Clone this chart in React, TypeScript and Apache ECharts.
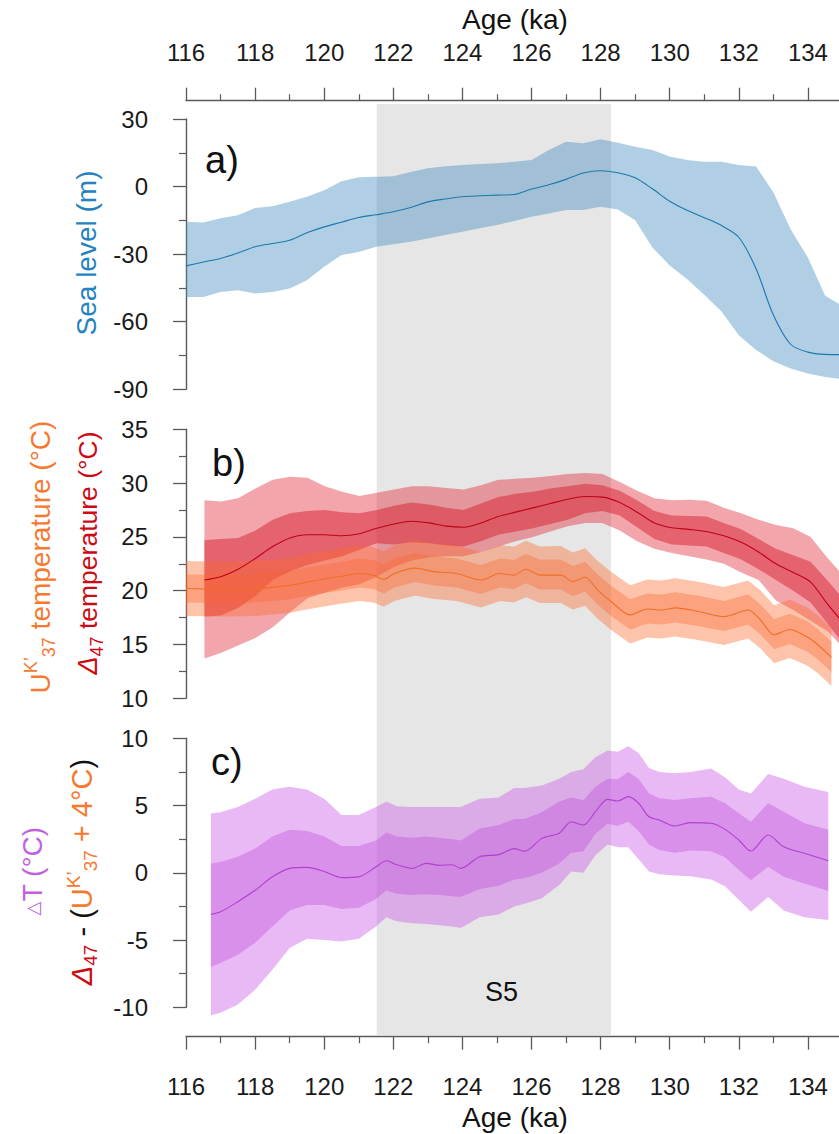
import React, { useEffect, useRef } from 'react';
import * as echarts from 'echarts';

const FONT = '"Liberation Sans", Arial, Helvetica, sans-serif';

// ---------- Panel a: sea level (m) ----------
const SL_AGE = [116, 116.5, 117, 117.5, 118, 118.5, 119, 119.5, 120, 120.5, 121, 121.5, 122, 122.5, 123, 123.5, 124, 124.5, 125, 125.5, 126, 126.5, 127, 127.5, 128, 128.5, 129, 129.5, 130, 130.5, 131, 131.5, 132, 132.5, 133, 133.5, 134, 134.5, 135];
const SL_MEAN = [-35.2, -33.5, -31.9, -29.5, -26.7, -25.3, -23.8, -20.5, -17.9, -15.8, -13.7, -12.5, -11.2, -9.3, -6.8, -5.5, -4.5, -4.1, -3.8, -3.5, -1.1, 0.8, 3.2, 6.0, 7.0, 6.1, 3.9, -1.0, -6.5, -10.5, -13.8, -17.3, -22.5, -36.5, -57, -70, -73.5, -74.5, -74.6];
const SL_UP = [-15.6, -16, -14.1, -12.7, -9.5, -8.7, -6.7, -4.5, -1.6, 2.4, 4.1, 4.4, 4.6, 6.5, 8.1, 9.0, 9.6, 10.0, 10.3, 11.0, 11.8, 16.2, 19.9, 19.2, 21, 19.5, 17.7, 16.2, 13.3, 11.8, 11, 11, 9.6, 8.9, -2.5, -19, -31.5, -48.5, -53];
const SL_LOW = [-49, -49, -46.8, -46, -47.5, -46.8, -45.2, -41.6, -35.6, -30.4, -29, -26.7, -25.6, -24.5, -23, -21.5, -20, -18.5, -17.1, -15.3, -13.4, -12, -10.4, -10.4, -9, -10.2, -15, -27, -35, -41, -48, -55.5, -66, -72.5, -77.5, -80.8, -83, -84.5, -85.5];

// ---------- Panel b: clumped isotope (Δ47) temperature (°C) ----------
const R_AGE = [116.53, 117, 117.5, 118, 118.5, 119, 119.5, 120, 120.5, 121, 121.5, 122, 122.5, 123, 123.5, 124, 124.5, 125, 125.5, 126, 126.5, 127, 127.5, 128, 128.5, 129, 129.5, 130, 130.5, 131, 131.5, 132, 132.5, 133, 133.5, 134, 134.5, 135];
const R_MEAN = [21.0, 21.3, 22.0, 23.0, 24.1, 24.9, 25.2, 25.2, 25.1, 25.3, 25.8, 26.2, 26.45, 26.3, 26.0, 25.9, 26.3, 26.9, 27.3, 27.7, 28.1, 28.5, 28.75, 28.7, 28.2, 27.3, 26.3, 25.85, 25.7, 25.5, 25.1, 24.5, 23.6, 22.5, 21.7, 20.8, 18.7, 16.8];
const R_IN_UP = [24.7, 24.8, 24.9, 25.6, 26.6, 27.2, 27.4, 27.5, 27.3, 27.2, 27.5, 27.9, 28.2, 28.0, 27.7, 27.5, 28.1, 28.7, 29.0, 29.2, 29.5, 29.7, 29.95, 29.8, 29.3, 28.4, 27.4, 27.0, 26.95, 26.9, 26.3, 25.7, 24.8, 23.9, 23.3, 22.7, 20.9, 19.0];
const R_IN_LOW = [17.6, 17.7, 18.4, 19.5, 21.0, 21.8, 22.4, 22.8, 23.2, 23.8, 24.4, 24.3, 24.5, 24.4, 24.2, 24.1, 24.6, 25.2, 25.5, 25.8, 26.2, 26.6, 27.2, 27.4, 27.0, 25.9, 24.8, 24.3, 24.2, 24.1, 23.5, 22.9, 22.0, 21.0, 20.0, 18.9, 16.9, 14.8];
const R_OUT_UP = [28.4, 28.3, 28.6, 29.5, 30.3, 30.6, 30.5, 29.7, 29.2, 28.8, 29.1, 29.4, 29.7, 29.7, 29.55, 29.4, 29.8, 30.3, 30.4, 30.5, 30.65, 30.85, 30.95, 30.85, 30.1, 29.3, 28.6, 28.4, 28.45, 28.35, 27.7, 27.2, 26.6, 26.1, 25.8, 25.0, 23.0, 21.2];
const R_OUT_LOW = [13.7, 14.2, 14.9, 15.6, 16.6, 18.0, 19.3, 19.8, 20.3, 20.6, 21.3, 22.2, 22.8, 23.1, 23.2, 23.2, 23.6, 24.1, 24.6, 25.0, 25.5, 26.0, 26.3, 26.3, 25.6, 24.6, 23.9, 23.5, 23.2, 22.9, 22.5, 21.7, 21.0, 19.1, 18.2, 17.2, 16.2, 14.5];

// ---------- Panel b: alkenone (UK'37) temperature (°C) ----------
const O_AGE = [116, 117, 118, 118.9, 119.8, 120.5, 121.0, 121.4, 121.7, 122.0, 122.6, 123.1, 123.8, 124.5, 125.05, 125.45, 125.8, 126.2, 126.8, 127.15, 127.5, 127.85, 128.25, 128.8, 129.3, 129.7, 130.1, 130.8, 131.5, 132.2, 132.55, 132.95, 133.4, 133.9, 134.2, 134.6];
const O_MEAN = [20.2, 20.15, 20.2, 20.45, 21.0, 21.35, 21.6, 21.45, 21.05, 21.6, 22.1, 21.8, 21.6, 21.0, 21.6, 21.45, 22.0, 21.45, 21.45, 20.85, 21.25, 20.1, 19.0, 17.75, 18.3, 18.2, 18.4, 18.05, 17.6, 18.2, 17.3, 15.9, 16.4, 15.7, 15.0, 13.8];
const O_IN_UP = [21.5, 21.45, 21.5, 21.8, 22.35, 22.7, 23.0, 22.85, 22.45, 23.0, 23.5, 23.2, 23.0, 22.4, 23.0, 22.85, 23.4, 22.9, 22.9, 22.3, 22.7, 21.55, 20.45, 19.2, 19.75, 19.65, 19.85, 19.5, 19.05, 19.65, 18.75, 17.35, 17.85, 17.15, 16.45, 15.25];
const O_IN_LOW = [18.9, 18.85, 18.9, 19.15, 19.7, 20.05, 20.3, 20.15, 19.75, 20.3, 20.8, 20.5, 20.3, 19.7, 20.3, 20.15, 20.7, 20.1, 20.1, 19.5, 19.9, 18.75, 17.65, 16.4, 16.95, 16.85, 17.05, 16.7, 16.25, 16.85, 15.95, 14.55, 15.05, 14.35, 13.65, 12.45];
const O_OUT_UP = [22.75, 22.7, 22.75, 23.0, 23.6, 23.95, 24.2, 24.05, 23.65, 24.2, 24.7, 24.4, 24.2, 23.6, 24.25, 24.1, 24.65, 24.1, 24.15, 23.55, 23.95, 22.8, 21.75, 20.5, 21.05, 20.95, 21.15, 20.8, 20.35, 20.95, 20.05, 18.65, 19.15, 18.45, 17.75, 16.55];
const O_OUT_LOW = [17.65, 17.6, 17.65, 17.9, 18.45, 18.8, 19.05, 18.9, 18.5, 19.05, 19.55, 19.25, 19.05, 18.45, 19.05, 18.9, 19.4, 18.85, 18.85, 18.25, 18.6, 17.45, 16.35, 15.1, 15.65, 15.55, 15.75, 15.4, 14.95, 15.55, 14.65, 13.25, 13.75, 13.05, 12.35, 11.15];

// ---------- Panel c: ΔT (°C) ----------
const P_AGE = [116.72, 117, 117.5, 118, 118.5, 119, 119.5, 120, 120.5, 121, 121.5, 121.8, 122.1, 122.55, 122.95, 123.35, 123.7, 123.95, 124.5, 125.05, 125.5, 125.8, 126.3, 126.8, 127.15, 127.5, 127.85, 128.2, 128.5, 128.8, 129.1, 129.4, 129.7, 130.15, 130.6, 131.2, 131.6, 132.0, 132.35, 132.85, 133.3, 133.9, 134.59];
const P_MEAN = [-3.1, -2.9, -2.15, -1.3, -0.3, 0.33, 0.4, 0.1, -0.36, -0.3, 0.45, 0.9, 0.6, 0.33, 0.7, 0.55, 0.6, 0.33, 1.2, 1.35, 1.8, 1.6, 2.56, 2.94, 3.8, 3.55, 4.54, 5.46, 5.34, 5.66, 5.17, 4.17, 3.93, 3.48, 3.73, 3.68, 3.23, 2.44, 1.62, 2.81, 1.94, 1.45, 0.9];
const P_IN_UP = [0.7, 0.8, 1.2, 1.8, 2.7, 3.2, 3.1, 2.7, 2.0, 2.0, 2.4, 3.0, 2.7, 2.6, 2.7, 2.6, 2.5, 2.4, 3.3, 3.55, 4.0, 4.0, 4.5, 5.3, 5.6, 5.4, 6.4, 7.0, 6.95, 7.5, 7.0, 5.9, 5.54, 5.41, 5.54, 5.66, 5.17, 4.42, 3.8, 5.17, 4.54, 3.68, 3.2];
const P_IN_LOW = [-7.0, -6.7, -6.1, -5.2, -4.0, -2.8, -2.4, -2.4, -2.7, -2.6, -1.95, -1.3, -1.55, -1.65, -1.6, -1.65, -1.75, -1.8, -1.2, -0.96, -0.5, -0.4, 0.0, 0.7, 1.5, 1.6, 2.9, 3.65, 3.5, 3.8, 3.1, 2.1, 1.7, 1.5, 1.65, 1.6, 1.15, 0.2, -0.55, 0.45, -0.3, -0.8, -1.35];
const P_OUT_UP = [4.4, 4.5, 4.9, 5.5, 6.2, 6.4, 6.2, 5.5, 4.3, 4.3, 4.9, 5.3, 4.95, 4.9, 4.9, 4.9, 4.9, 4.9, 5.5, 5.6, 6.3, 6.3, 6.5, 7.0, 7.5, 7.7, 8.6, 9.1, 9.0, 9.4, 8.9, 7.8, 7.5, 7.4, 7.5, 7.75, 7.1, 6.2, 5.9, 7.35, 7.0, 6.4, 6.0];
const P_OUT_LOW = [-10.6, -10.4, -9.8, -8.7, -7.2, -5.6, -4.9, -5.0, -5.1, -4.9, -4.0, -3.3, -3.6, -3.75, -3.8, -3.9, -4.0, -4.1, -3.3, -3.1, -2.5, -2.3, -1.9, -0.9, 0.1, 0.0, 1.3, 2.1, 1.9, 1.9, 1.0, 0.1, -0.1, -0.2, -0.25, -0.5, -1.0, -2.0, -2.9, -1.8, -2.8, -3.3, -3.5];

// ---------- Axes / annotations ----------
const X_MIN = 116;
const X_MAX = 136;
const X_STEP = 2;
const Y_A = { min: -90, max: 30, step: 30 };
const Y_B = { min: 10, max: 35, step: 5 };
const Y_C = { min: -10, max: 10, step: 5 };
const S5_RANGE = [121.52, 128.3];
const S5_LABEL_AGE = 125.13;

const AXIS_COLOR = '#5a5a5a';
const LABEL_COLOR = '#1a1a1a';

function band(idx: number, ages: number[], up: number[], low: number[], color: string) {
  return {
    type: 'custom',
    xAxisIndex: idx,
    yAxisIndex: idx,
    silent: true,
    data: [[ages[0], up[0]]],
    renderItem: (_p: any, api: any) => {
      const pts: number[][] = [];
      for (let i = 0; i < ages.length; i++) pts.push(api.coord([ages[i], up[i]]));
      for (let i = ages.length - 1; i >= 0; i--) pts.push(api.coord([ages[i], low[i]]));
      return { type: 'polygon', shape: { points: pts }, style: { fill: color } };
    },
  };
}

function line(idx: number, ages: number[], vals: number[], color: string) {
  return {
    type: 'line',
    xAxisIndex: idx,
    yAxisIndex: idx,
    silent: true,
    data: ages.map((a, i) => [a, vals[i]]),
    showSymbol: false,
    smooth: 0.3,
    lineStyle: { color, width: 1.1 },
  };
}

function xAxis(idx: number, pos: 'top' | 'bottom', show: boolean, offset: number, margin: number) {
  return {
    type: 'value',
    gridIndex: idx,
    position: pos,
    show,
    offset,
    min: X_MIN,
    max: X_MAX,
    interval: X_STEP,
    axisLine: { show: true, onZero: false, lineStyle: { color: AXIS_COLOR, width: 1.4 } },
    axisTick: { show: true, inside: false, length: 13, lineStyle: { color: AXIS_COLOR, width: 1.3 } },
    minorTick: { show: true, splitNumber: 2, length: 6.5, lineStyle: { color: AXIS_COLOR, width: 1.2 } },
    splitLine: { show: false },
    minorSplitLine: { show: false },
    axisLabel: {
      show: true,
      margin,
      fontSize: 24,
      fontFamily: FONT,
      color: LABEL_COLOR,
      formatter: (v: number) => (v <= 134 && Math.abs(v % 2) < 1e-6 ? String(v) : ''),
    },
  };
}

function yAxis(idx: number, r: { min: number; max: number; step: number }) {
  return {
    type: 'value',
    gridIndex: idx,
    min: r.min,
    max: r.max,
    interval: r.step,
    axisLine: { show: true, onZero: false, lineStyle: { color: AXIS_COLOR, width: 1.4 } },
    axisTick: { show: true, inside: false, length: 13, lineStyle: { color: AXIS_COLOR, width: 1.3 } },
    minorTick: { show: true, splitNumber: 2, length: 7, lineStyle: { color: AXIS_COLOR, width: 1.2 } },
    splitLine: { show: false },
    axisLabel: { margin: 38, fontSize: 24, fontFamily: FONT, color: LABEL_COLOR },
  };
}

// rich-text token styles for the rotated axis titles
function tok(color: string, size: number, extra: any = {}) {
  return { fill: color, color, fontSize: size, fontFamily: FONT, lineHeight: 36, ...extra };
}
function supTok(color: string, size: number) {
  return { fill: color, color, fontSize: size, fontFamily: FONT, lineHeight: 16, verticalAlign: 'top' };
}
function subTok(color: string, size: number) {
  return { fill: color, color, fontSize: size, fontFamily: FONT, lineHeight: 16, verticalAlign: 'bottom' };
}

function verticalRich(text: string, rich: any, cx: number, cy: number) {
  return {
    type: 'text',
    x: cx,
    y: cy,
    rotation: Math.PI / 2,
    silent: true,
    style: {
      text,
      rich,
      align: 'center',
      textAlign: 'center',
      verticalAlign: 'middle',
      textVerticalAlign: 'middle',
    },
  };
}

function plainText(text: string, x: number, y: number, size: number, align = 'left', color = '#111') {
  return {
    type: 'text',
    x,
    y,
    silent: true,
    style: {
      text,
      fill: color,
      font: `${size}px ${FONT}`,
      align,
      textAlign: align,
      verticalAlign: 'middle',
      textVerticalAlign: 'middle',
    },
  };
}

const BLUE_T = '#2382bf';
const ORANGE_T = '#f7782f';
const RED_T = '#cc0a14';
const PURPLE_T = '#c062e0';
const BLACK_T = '#111111';

export default function App() {
  const ref = useRef<HTMLDivElement>(null);
  useEffect(() => {
    const chart = echarts.init(ref.current!, null, { renderer: 'svg' });
    const grids = [
      { left: 186, width: 694, top: 119, height: 270.3 },
      { left: 186, width: 694, top: 429.3, height: 269 },
      { left: 186, width: 694, top: 738.3, height: 269 },
    ];
    chart.setOption({
      animation: false,
      backgroundColor: '#ffffff',
      grid: grids,
      xAxis: [xAxis(0, 'top', true, 18.3, 36), xAxis(1, 'bottom', false, 0, 8), xAxis(2, 'bottom', true, 29.4, 38)],
      yAxis: [yAxis(0, Y_A), yAxis(1, Y_B), yAxis(2, Y_C)],
      series: [
        band(0, SL_AGE, SL_UP, SL_LOW, 'rgba(70,140,190,0.42)'),
        line(0, SL_AGE, SL_MEAN, '#1c78b0'),
        band(1, R_AGE, R_OUT_UP, R_OUT_LOW, 'rgba(222,30,45,0.4)'),
        band(1, R_AGE, R_IN_UP, R_IN_LOW, 'rgba(212,20,35,0.45)'),
        line(1, R_AGE, R_MEAN, '#c00018'),
        band(1, O_AGE, O_OUT_UP, O_OUT_LOW, 'rgba(252,105,45,0.4)'),
        band(1, O_AGE, O_IN_UP, O_IN_LOW, 'rgba(250,100,45,0.35)'),
        line(1, O_AGE, O_MEAN, '#f07028'),
        band(2, P_AGE, P_OUT_UP, P_OUT_LOW, 'rgba(205,100,230,0.45)'),
        band(2, P_AGE, P_IN_UP, P_IN_LOW, 'rgba(190,70,215,0.35)'),
        line(2, P_AGE, P_MEAN, '#b040d0'),
      ],
    });

    const xa = chart.convertToPixel({ xAxisIndex: 2 }, S5_RANGE[0]) as number;
    const xb = chart.convertToPixel({ xAxisIndex: 2 }, S5_RANGE[1]) as number;
    const xs = chart.convertToPixel({ xAxisIndex: 2 }, S5_LABEL_AGE) as number;

    const graphic: any[] = [
      { type: 'rect', z: -1, silent: true, shape: { x: xa, y: 104, width: xb - xa, height: 931 }, style: { fill: '#e6e6e6' } },
      plainText('Age (ka)', 515, 19, 28, 'center'),
      plainText('Age (ka)', 515, 1117, 28, 'center'),
      plainText('a)', 205, 160, 38),
      plainText('b)', 212, 463, 38),
      plainText('c)', 211, 762, 38),
      plainText('S5', xs, 992, 27, 'center'),
      verticalRich('{t|Sea level (m)}', { t: tok(BLUE_T, 28) }, 86, 253),
      verticalRich(
        '{u|U}{sup|K\u2019}{sub|37}{t| temperature (°C)}',
        { u: tok(ORANGE_T, 28), sup: supTok(ORANGE_T, 18), sub: subTok(ORANGE_T, 18), t: tok(ORANGE_T, 28) },
        40,
        557
      ),
      verticalRich(
        '{d|Δ}{sub|47}{t| temperature (°C)}',
        { d: tok(RED_T, 27, { fontStyle: 'italic' }), sub: subTok(RED_T, 18), t: tok(RED_T, 26.5) },
        88,
        553
      ),
      verticalRich(
        '{tri|△}{t|T (°C)}',
        { tri: tok(PURPLE_T, 18, { fontFamily: '"DejaVu Sans", sans-serif' }), t: tok(PURPLE_T, 28) },
        32,
        871
      ),
      verticalRich(
        '{d|Δ}{rs|47}{k| - (}{u|U}{sup|K\u2019}{sub|37}{o| + 4°C}{k|)}',
        {
          d: tok(RED_T, 29, { fontStyle: 'italic' }),
          rs: subTok(RED_T, 19),
          k: tok(BLACK_T, 29),
          u: tok(ORANGE_T, 29),
          sup: supTok(ORANGE_T, 19),
          sub: subTok(ORANGE_T, 19),
          o: tok(ORANGE_T, 29),
        },
        82,
        872
      ),
    ];
    chart.setOption({ graphic });
    return () => chart.dispose();
  }, []);
  return (
    <div style={{ position: 'fixed', left: 0, top: 0, width: 839, height: 1134, overflow: 'hidden', background: '#fff' }}>
      <div ref={ref} style={{ width: 880, height: 1134 }} />
    </div>
  );
}
